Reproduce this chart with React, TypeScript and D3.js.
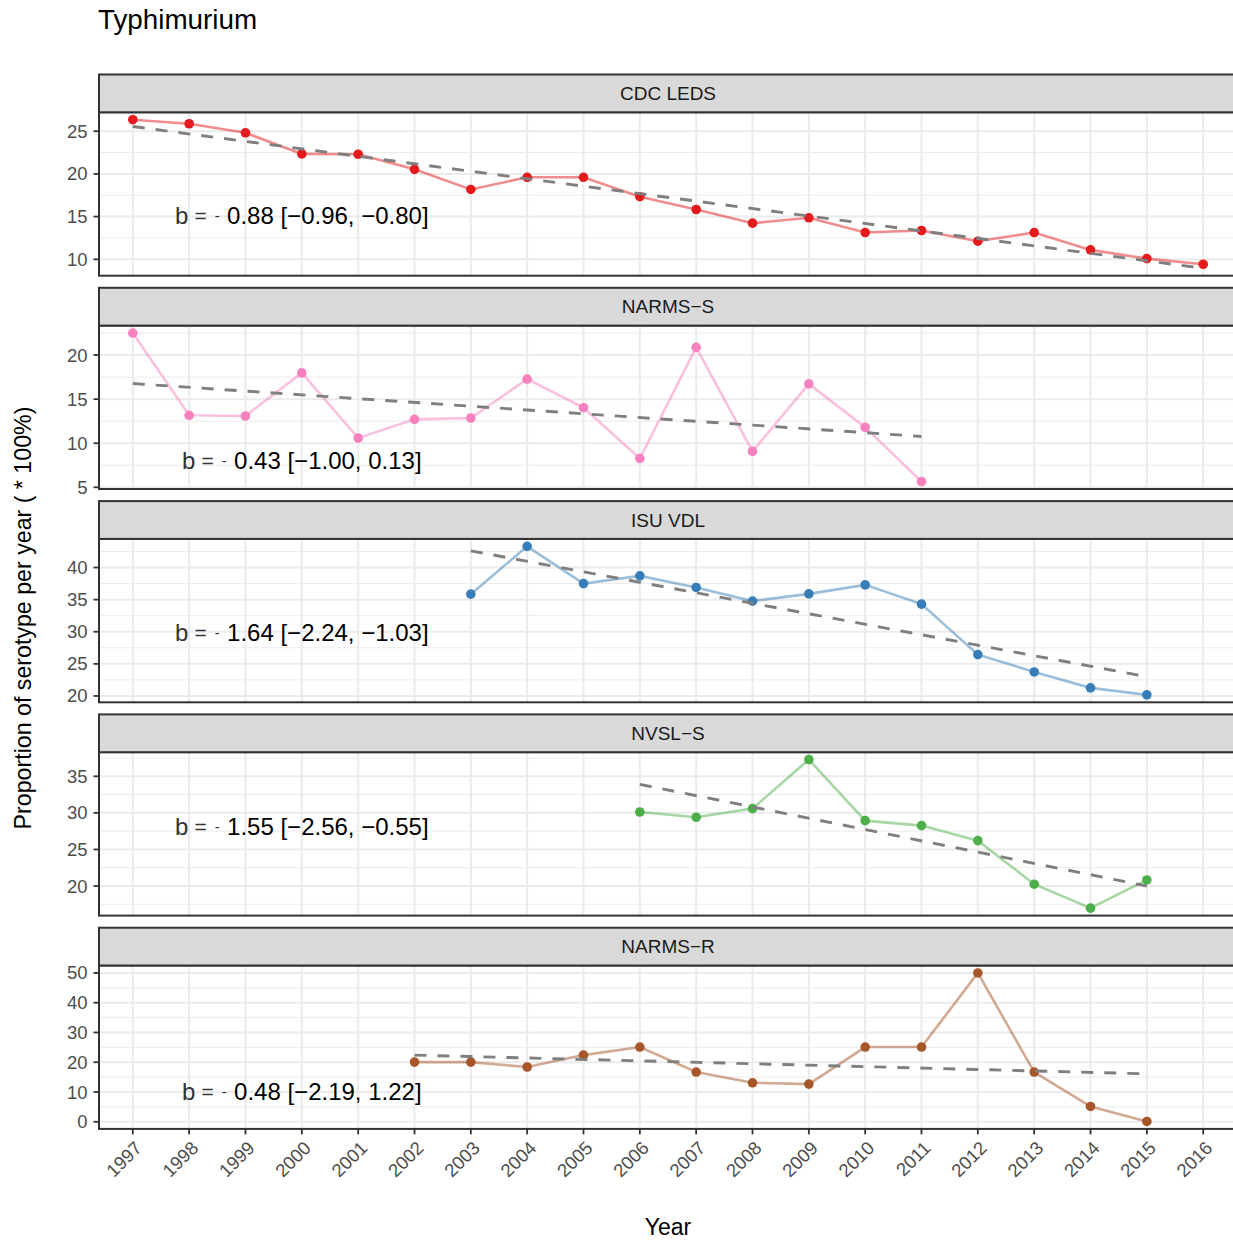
import React from "react";
import * as d3 from "d3";

const YEARS = [1997, 1998, 1999, 2000, 2001, 2002, 2003, 2004, 2005, 2006, 2007, 2008, 2009, 2010, 2011, 2012, 2013, 2014, 2015, 2016];
const SOURCES = ["CDC LEDS", "NARMS−S", "ISU VDL", "NVSL−S", "NARMS−R"];
const COLORS = ["#E41A1C", "#F781BF", "#377EB8", "#4DAF4A", "#A65628"];

const CDC_YEARS = [1997, 1998, 1999, 2000, 2001, 2002, 2003, 2004, 2005, 2006, 2007, 2008, 2009, 2010, 2011, 2012, 2013, 2014, 2015, 2016];
const CDC_VALUES = [26.34, 25.87, 24.81, 22.34, 22.3, 20.53, 18.18, 19.6, 19.6, 17.33, 15.83, 14.23, 14.86, 13.13, 13.37, 12.12, 13.13, 11.1, 10.08, 9.42];

const NARMS_S_YEARS = [1997, 1998, 1999, 2000, 2001, 2002, 2003, 2004, 2005, 2006, 2007, 2008, 2009, 2010, 2011];
const NARMS_S_VALUES = [22.5, 13.17, 13.09, 17.98, 10.58, 12.71, 12.86, 17.27, 14.03, 8.27, 20.87, 9.07, 16.73, 11.8, 5.65];

const ISU_YEARS = [2003, 2004, 2005, 2006, 2007, 2008, 2009, 2010, 2011, 2012, 2013, 2014, 2015];
const ISU_VALUES = [35.85, 43.3, 37.5, 38.7, 36.9, 34.77, 35.9, 37.3, 34.3, 26.43, 23.74, 21.26, 20.17];

const NVSL_YEARS = [2006, 2007, 2008, 2009, 2010, 2011, 2012, 2013, 2014, 2015];
const NVSL_VALUES = [30.12, 29.4, 30.58, 37.28, 28.94, 28.26, 26.2, 20.25, 16.97, 20.83];

const NARMS_R_YEARS = [2002, 2003, 2004, 2005, 2006, 2007, 2008, 2009, 2010, 2011, 2012, 2013, 2014, 2015];
const NARMS_R_VALUES = [20.05, 20.05, 18.4, 22.4, 25.1, 16.7, 13.1, 12.66, 25.1, 25.1, 50, 16.7, 5.15, 0.1];

const SERIES_YEARS = [CDC_YEARS, NARMS_S_YEARS, ISU_YEARS, NVSL_YEARS, NARMS_R_YEARS];
const SERIES_VALUES = [CDC_VALUES, NARMS_S_VALUES, ISU_VALUES, NVSL_VALUES, NARMS_R_VALUES];

// fitted trend line: value at first and last year of each series
const TREND_START = [25.55, 16.77, 42.6, 33.9, 22.4];
const TREND_END = [8.95, 10.77, 23.0, 20.0, 16.1];

const B_EST = [-0.88, -0.43, -1.64, -1.55, -0.48];
const B_LO = [-0.96, -1.0, -2.24, -2.56, -2.19];
const B_HI = [-0.8, 0.13, -1.03, -0.55, 1.22];
const LABEL_X = 2000;
const LABEL_Y = [15.13, 8.07, 29.9, 28.14, 10.2];

const TITLE = "Typhimurium";
const X_TITLE = "Year";
const Y_TITLE = "Proportion of serotype per year ( * 100%)";

const FONT = "'Liberation Sans', Arial, Helvetica, sans-serif";
const W = 1233;
const H = 1243;
const PANEL_LEFT = 99;
const PANEL_RIGHT = 1237;
const TOP0 = 74.5;
const STEP = 213.3;
const STRIP_H = 37.8;
const PLOT_H = 163.4;

const fmt = (v: number) => (v < 0 ? "−" : "") + Math.abs(v).toFixed(2);

export default function App() {
  const x = d3.scalePoint<number>().domain(YEARS).range([PANEL_LEFT, PANEL_RIGHT]).padding(0.6);
  const lastBottom = TOP0 + 4 * STEP + STRIP_H + PLOT_H;

  const panels = SOURCES.map((name, i) => {
    const top = TOP0 + i * STEP;
    const plotTop = top + STRIP_H;
    const plotBottom = plotTop + PLOT_H;
    const yrs = SERIES_YEARS[i];
    const vals = SERIES_VALUES[i];
    const all = [...vals, TREND_START[i], TREND_END[i]];
    const mn = d3.min(all) as number;
    const mx = d3.max(all) as number;
    const r = mx - mn;
    const y = d3.scaleLinear().domain([mn - 0.05 * r, mx + 0.05 * r]).range([plotBottom, plotTop]);
    const [d0, d1] = y.domain();
    const majors = y.ticks(5).filter((t) => t >= d0 && t <= d1);
    const stepT = majors.length > 1 ? majors[1] - majors[0] : 5;
    const minors: number[] = [];
    for (let t = majors[0] - stepT / 2; t <= majors[majors.length - 1] + stepT / 2 + 1e-9; t += stepT) {
      if (t >= d0 && t <= d1) minors.push(t);
    }
    const pts = yrs.map((yr, k) => ({ year: yr, value: vals[k] }));
    const line = d3
      .line<{ year: number; value: number }>()
      .x((d) => x(d.year) as number)
      .y((d) => y(d.value));
    const firstYear = yrs[0];
    const lastYear = yrs[yrs.length - 1];
    const clipId = `clip${i}`;
    return (
      <g key={name}>
        <defs>
          <clipPath id={clipId}>
            <rect x={PANEL_LEFT} y={plotTop} width={PANEL_RIGHT - PANEL_LEFT} height={PLOT_H} />
          </clipPath>
        </defs>
        <rect x={PANEL_LEFT} y={plotTop} width={PANEL_RIGHT - PANEL_LEFT} height={PLOT_H} fill="#FFFFFF" />
        <g clipPath={`url(#${clipId})`}>
          {minors.map((t) => (
            <line key={"mn" + t} x1={PANEL_LEFT} x2={PANEL_RIGHT} y1={y(t)} y2={y(t)} stroke="#EBEBEB" strokeWidth={1} />
          ))}
          {majors.map((t) => (
            <line key={"mj" + t} x1={PANEL_LEFT} x2={PANEL_RIGHT} y1={y(t)} y2={y(t)} stroke="#EBEBEB" strokeWidth={2} />
          ))}
          {YEARS.map((yr) => (
            <line key={"v" + yr} x1={x(yr)} x2={x(yr)} y1={plotTop} y2={plotBottom} stroke="#EBEBEB" strokeWidth={2} />
          ))}
          <path d={line(pts) || ""} fill="none" stroke={COLORS[i]} strokeOpacity={0.5} strokeWidth={2.6} />
          {pts.map((p) => (
            <circle key={"p" + p.year} cx={x(p.year)} cy={y(p.value)} r={4.8} fill={COLORS[i]} />
          ))}
          <line
            x1={x(firstYear)}
            x2={x(lastYear)}
            y1={y(TREND_START[i])}
            y2={y(TREND_END[i])}
            stroke="#7F7F7F"
            strokeWidth={2.9}
            strokeDasharray="12 11"
          />
        </g>
        <text
          x={x(LABEL_X)}
          y={y(LABEL_Y[i])}
          textAnchor="middle"
          dominantBaseline="central"
          fontFamily={FONT}
          fontSize={24}
          fill="#000000"
        >
          <tspan fill="#333333">b</tspan>
          <tspan fill="#333333" fontSize={21} dx={6}>=</tspan>
          <tspan fill="#333333" fontSize={15} dx={8}>-</tspan>
          <tspan dx={7.4}>{Math.abs(B_EST[i]).toFixed(2) + " [" + fmt(B_LO[i]) + ", " + fmt(B_HI[i]) + "]"}</tspan>
        </text>
        {majors.map((t) => (
          <g key={"yt" + t}>
            <line x1={93.5} x2={PANEL_LEFT} y1={y(t)} y2={y(t)} stroke="#333333" strokeWidth={1.8} />
            <text
              x={87.5}
              y={y(t)}
              textAnchor="end"
              dominantBaseline="central"
              fontFamily={FONT}
              fontSize={18.5}
              fill="#4D4D4D"
            >
              {t}
            </text>
          </g>
        ))}
        <rect
          x={PANEL_LEFT}
          y={plotTop}
          width={PANEL_RIGHT - PANEL_LEFT}
          height={PLOT_H}
          fill="none"
          stroke="#333333"
          strokeWidth={2}
        />
        <rect
          x={PANEL_LEFT}
          y={top}
          width={PANEL_RIGHT - PANEL_LEFT}
          height={STRIP_H}
          fill="#D9D9D9"
          stroke="#333333"
          strokeWidth={2}
        />
        <text
          x={(PANEL_LEFT + PANEL_RIGHT) / 2}
          y={top + STRIP_H / 2}
          textAnchor="middle"
          dominantBaseline="central"
          fontFamily={FONT}
          fontSize={19}
          fill="#1A1A1A"
        >
          {name}
        </text>
      </g>
    );
  });

  return (
    <svg width={W} height={H} style={{ position: "absolute", left: 0, top: 0, background: "#FFFFFF" }}>
      <rect x={0} y={0} width={W} height={H} fill="#FFFFFF" />
      <text x={98} y={28.5} fontFamily={FONT} fontSize={27.8} fill="#000000">
        {TITLE}
      </text>
      {panels}
      {YEARS.map((yr) => {
        const xx = x(yr) as number;
        const ax = xx + 1;
        const ay = lastBottom + 11;
        return (
          <g key={"xt" + yr}>
            <line x1={xx} x2={xx} y1={lastBottom} y2={lastBottom + 5.5} stroke="#333333" strokeWidth={1.8} />
            <text
              x={ax}
              y={ay}
              dy="0.71em"
              textAnchor="end"
              transform={`rotate(-45, ${ax}, ${ay})`}
              fontFamily={FONT}
              fontSize={18.5}
              fill="#4D4D4D"
            >
              {yr}
            </text>
          </g>
        );
      })}
      <text x={(PANEL_LEFT + PANEL_RIGHT) / 2} y={1235} textAnchor="middle" fontFamily={FONT} fontSize={23} fill="#000000">
        {X_TITLE}
      </text>
      <text
        x={0}
        y={0}
        transform={`translate(30.5, 618) rotate(-90)`}
        textAnchor="middle"
        fontFamily={FONT}
        fontSize={23.2}
        fill="#000000"
      >
        {Y_TITLE}
      </text>
    </svg>
  );
}
